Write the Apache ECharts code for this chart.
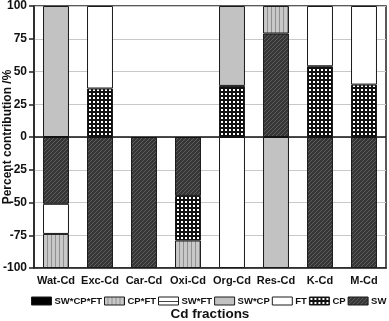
<!DOCTYPE html>
<html style="height: 100%">
<head>
    <meta charset="utf-8">
</head>
<body style="height: 100%; margin: 0; background: #fff">
    <div id="container" style="width: 389px; height: 321px"></div>
    <script type="text/javascript" src="https://cdn.jsdelivr.net/npm/echarts@6/dist/echarts.min.js"></script>
    <script type="text/javascript">
var categories = ['Wat-Cd', 'Exc-Cd', 'Car-Cd', 'Oxi-Cd', 'Org-Cd', 'Res-Cd', 'K-Cd', 'M-Cd'];
// stacked from the zero line outward; null = no segment
var SW       = [-51, -100, -100, -45, null, 79, -100, -100];
var CP       = [null, 37, null, -34, 39, null, 54, 40];
var FT       = [-23, 63, null, null, -100, null, 46, 60];
var SWxCP    = [100, null, null, null, 61, -100, null, null];
var SWxFT    = [null, null, null, null, null, null, null, null];
var CPxFT    = [-26, null, null, -21, null, 21, null, null];
var SWxCPxFT = [null, null, null, null, null, null, null, null];
var yTicks = [-100, -75, -50, -25, 0, 25, 50, 75, 100];

function pattern(w, h, draw) {
    var c = document.createElement('canvas');
    c.width = w; c.height = h;
    draw(c.getContext('2d'), w, h);
    return { image: c, repeat: 'repeat' };
}
var hatch = pattern(4, 4, function (g, w, h) {
    g.fillStyle = '#363636'; g.fillRect(0, 0, w, h);
    g.strokeStyle = '#5e5e5e'; g.lineWidth = 1;
    g.beginPath();
    g.moveTo(0, h); g.lineTo(w, 0);
    g.moveTo(-1, 1); g.lineTo(1, -1);
    g.moveTo(w - 1, h + 1); g.lineTo(w + 1, h - 1);
    g.stroke();
});
var grid4 = pattern(4, 4, function (g, w, h) {
    g.fillStyle = '#111'; g.fillRect(0, 0, w, h);
    g.fillStyle = '#fff'; g.fillRect(1, 1, 2, 2);
});
var vstripe = pattern(4, 4, function (g, w, h) {
    g.fillStyle = '#c8c8c8'; g.fillRect(0, 0, w, h);
    g.fillStyle = '#909090'; g.fillRect(3, 0, 1, h);
});
var hstripe = pattern(8, 8, function (g, w, h) {
    g.fillStyle = '#fff'; g.fillRect(0, 0, w, h);
    g.fillStyle = '#444'; g.fillRect(0, 4, w, 1);
});

var dom = document.getElementById('container');
var myChart = echarts.init(dom, null, { renderer: 'canvas' });

function bar(name, data, color) {
    return {
        name: name,
        type: 'bar',
        stack: 'total',
        data: data,
        barWidth: '59%',
        itemStyle: { color: color, borderColor: '#1a1a1a', borderWidth: 1 }
    };
}

var font = 'Arial, "Liberation Sans", sans-serif';
var series = [
    bar('SW', SW, hatch),
    bar('CP', CP, grid4),
    bar('FT', FT, '#ffffff'),
    bar('SW*CP', SWxCP, '#c2c2c2'),
    bar('SW*FT', SWxFT, hstripe),
    bar('CP*FT', CPxFT, vstripe),
    bar('SW*CP*FT', SWxCPxFT, '#000000')
];
series[0].markLine = {
    silent: true,
    symbol: 'none',
    label: { show: false },
    lineStyle: { color: '#111', width: 1.5, type: 'solid' },
    data: [{ yAxis: 0 }]
};

var option = {
    animation: false,
    backgroundColor: '#fff',
    textStyle: { fontFamily: font },
    grid: {
        left: 34, right: 3, top: 6, bottom: 53,
        outerBoundsMode: 'none',
        containLabel: false,
        show: true, borderColor: '#222', borderWidth: 1.5
    },
    legend: {
        data: ['SW*CP*FT', 'CP*FT', 'SW*FT', 'SW*CP', 'FT', 'CP', 'SW'],
        left: 31, top: 296, padding: 0,
        icon: 'rect',
        itemWidth: 20, itemHeight: 8, itemGap: 2,
        itemStyle: { borderWidth: 1, borderColor: '#1a1a1a' },
        textStyle: { fontSize: 9.5, fontWeight: 'bold', color: '#111', fontFamily: font, padding: [0, 0, 0, -2] }
    },
    xAxis: {
        type: 'category',
        data: categories,
        name: 'Cd fractions',
        nameLocation: 'middle',
        nameGap: 39,
        nameTextStyle: { fontSize: 13.5, fontWeight: 'bold', color: '#111' },
        axisLine: { onZero: false, lineStyle: { color: '#222', width: 1.5 } },
        axisTick: { alignWithLabel: true, length: 5, lineStyle: { color: '#222', width: 1.5 } },
        axisLabel: { interval: 0, fontSize: 11, fontWeight: 'bold', color: '#111', margin: 7 }
    },
    yAxis: {
        type: 'value',
        min: yTicks[0], max: yTicks[yTicks.length - 1], interval: 25,
        name: 'Percent contribution /%',
        nameLocation: 'middle',
        nameGap: 20,
        nameMoveOverlap: false,
        nameTextStyle: { fontSize: 12, fontWeight: 'bold', color: '#111' },
        axisLine: { show: true, lineStyle: { color: '#222', width: 1.5 } },
        axisTick: { show: true, length: 5, lineStyle: { color: '#222', width: 1.5 } },
        axisLabel: { fontSize: 12, fontWeight: 'bold', color: '#111', margin: 7 },
        splitLine: { lineStyle: { color: '#c8c8c8', width: 1 } }
    },
    series: series
};
myChart.setOption(option);
</script>
</body>
</html>
